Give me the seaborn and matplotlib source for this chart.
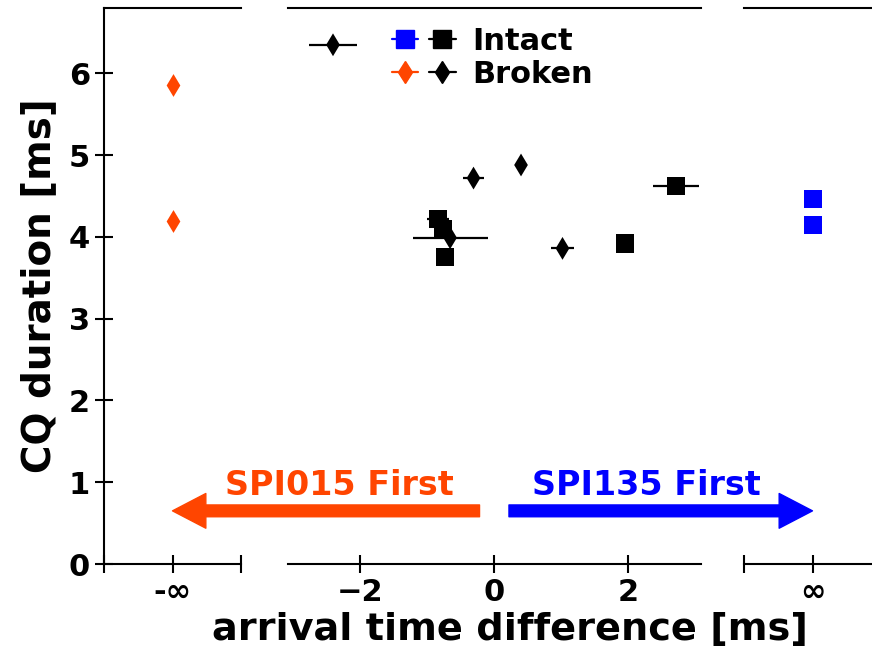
import numpy as np
import pandas as pd
import matplotlib
matplotlib.use("Agg")
import matplotlib.pyplot as plt
import seaborn as sns
from matplotlib.lines import Line2D
from matplotlib.legend_handler import HandlerTuple

# ---------------- data ----------------
intact_x = [-0.84, -0.76, -0.73, 1.96, 2.72]
intact_y = [4.22, 4.10, 3.75, 3.92, 4.62]
intact_xerr = [0.16, 0.05, 0.05, 0.13, 0.34]

broken_x = [-2.41, -0.31, 0.40, 1.02, -0.66]
broken_y = [6.35, 4.72, 4.88, 3.86, 3.99]
broken_xerr = [0.36, 0.15, 0.05, 0.17, 0.56]

neg_inf_broken_y = [5.86, 4.19]   # SPI015 only (broken)
pos_inf_intact_y = [4.46, 4.14]   # SPI135 only (intact)

y_ticks = [0, 1, 2, 3, 4, 5, 6]
mid_ticks = [-2, 0, 2]
legend_labels = ["Intact", "Broken"]
arrow_labels = ["SPI015 First", "SPI135 First"]

ORANGE = "#FF4500"
BLUE = "#0000FF"

# ---------------- style ----------------
sns.set_style("ticks")
plt.rcParams.update({
    "font.family": ["DejaVu Sans"],
    "font.weight": "bold",
    "axes.labelweight": "bold",
    "axes.linewidth": 1.5,
    "text.color": "black",
    "axes.labelcolor": "black",
    "axes.edgecolor": "black",
    "xtick.color": "black",
    "ytick.color": "black",
    "xtick.labelcolor": "black",
    "ytick.labelcolor": "black",
})

W, H = 872, 648
fig = plt.figure(figsize=(W / 100, H / 100), dpi=100)

y0 = 1 - 564 / H
hh = (564 - 8) / H
axL = fig.add_axes([104 / W, y0, (241 - 104) / W, hh])
axM = fig.add_axes([287.5 / W, y0, (701 - 287.5) / W, hh])
axR = fig.add_axes([744 / W, y0, (241 - 104) / W, hh])

mid = pd.DataFrame({
    "x": intact_x + broken_x,
    "y": intact_y + broken_y,
    "xerr": intact_xerr + broken_xerr,
    "state": ["Intact"] * len(intact_x) + ["Broken"] * len(broken_x),
})

# error bars
for st in ["Intact", "Broken"]:
    d = mid[mid.state == st]
    axM.errorbar(d.x, d.y, xerr=d.xerr, fmt="none", ecolor="k",
                 elinewidth=1.6, capsize=0, zorder=2)

sns.scatterplot(data=mid, x="x", y="y", style="state",
                markers={"Intact": "s", "Broken": "d"},
                size="state", sizes={"Intact": 169, "Broken": 135},
                color="k", linewidth=0, ax=axM, legend=False, zorder=3)

left = pd.DataFrame({"x": [0] * len(neg_inf_broken_y), "y": neg_inf_broken_y})
right = pd.DataFrame({"x": [0] * len(pos_inf_intact_y), "y": pos_inf_intact_y})
sns.scatterplot(data=left, x="x", y="y", marker="d", s=135, color=ORANGE,
                linewidth=0, ax=axL, legend=False, zorder=3)
sns.scatterplot(data=right, x="x", y="y", marker="s", s=169, color=BLUE,
                linewidth=0, ax=axR, legend=False, zorder=3)

# ---------------- axes ----------------
for ax in (axL, axM, axR):
    ax.set_ylim(0, 6.8)
    ax.set_xlabel("")
    ax.set_ylabel("")
    ax.tick_params(direction="inout", length=13, width=1.5, labelsize=22,
                   color="black", labelcolor="black")
    ax.spines["right"].set_visible(False)
    for sp in ax.spines.values():
        sp.set_color("black")
    ax.set_facecolor("none")

axL.set_xlim(-1, 1)
axL.set_xticks([-1, 0, 1])
axL.set_xticklabels(["", "-\u221e", ""])
axL.set_yticks(y_ticks)

axM.set_xlim(-3.09, 3.09)
axM.set_xticks(mid_ticks)
axM.spines["left"].set_visible(False)
axM.tick_params(axis="y", left=False, labelleft=False)

axR.set_xlim(-1, 1)
axR.set_xticks([-1, 0, 1])
axR.set_xticklabels(["", "\u221e", ""])
axR.spines["left"].set_visible(False)
axR.tick_params(axis="y", left=False, labelleft=False)

axL.set_ylabel("CQ duration [ms]", fontsize=28, labelpad=8, color="black")
fig.text(0.585, 1 - 640 / H, "arrival time difference [ms]", fontsize=27.5,
         fontweight="bold", ha="center", va="baseline", color="black")

# ---------------- arrows ----------------
ay = 0.65
axM.annotate("", xy=(0, ay), xycoords=axL.transData,
             xytext=(-0.22, ay), textcoords=axM.transData,
             arrowprops=dict(width=8.5, headwidth=25, headlength=24,
                             color=ORANGE, shrink=0))
axM.annotate("", xy=(0, ay), xycoords=axR.transData,
             xytext=(0.22, ay), textcoords=axM.transData,
             arrowprops=dict(width=8.5, headwidth=25, headlength=24,
                             color=BLUE, shrink=0))
axM.text(-2.32, 0.96, arrow_labels[0], color=ORANGE, fontsize=24,
         fontweight="bold", ha="center", va="center", clip_on=False)
axM.text(2.27, 0.96, arrow_labels[1], color=BLUE, fontsize=24,
         fontweight="bold", ha="center", va="center", clip_on=False)

# ---------------- legend ----------------
h_int = (Line2D([], [], color=BLUE, marker="s", ms=13, lw=1.6),
         Line2D([], [], color="k", marker="s", ms=13, lw=1.6))
h_brk = (Line2D([], [], color=ORANGE, marker="d", ms=11.5, lw=1.6),
         Line2D([], [], color="k", marker="d", ms=11.5, lw=1.6))
leg = axM.legend([h_int, h_brk], legend_labels,
                 handler_map={tuple: HandlerTuple(ndivide=None, pad=0.35)},
                 loc="upper left", bbox_to_anchor=(0.20, 1.005), frameon=False,
                 fontsize=22, handlelength=2.1, handletextpad=0.55,
                 labelspacing=0.15, borderaxespad=0.3)
for t in leg.get_texts():
    t.set_color("black")

fig.savefig("out.png", dpi=100)
